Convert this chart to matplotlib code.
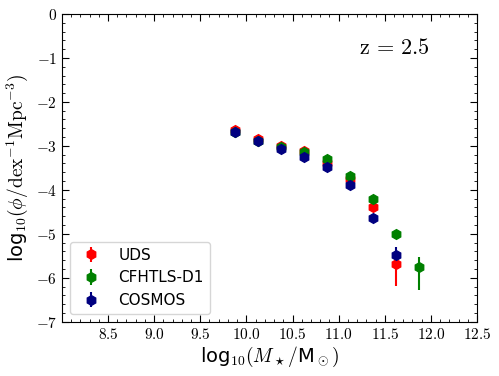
#%% Imports

import matplotlib
matplotlib.use('Agg')
import matplotlib.pyplot as plt
from matplotlib.ticker import MultipleLocator, AutoMinorLocator

#%% Data

# stellar mass bins (log10 M/Msun)
mass = [9.875, 10.125, 10.375, 10.625, 10.875, 11.125, 11.375, 11.625, 11.875]

# UDS
uds_phi = [-2.65, -2.85, -3.00, -3.12, -3.38, -3.75, -4.38, -5.69]
uds_lo = [0.03, 0.03, 0.03, 0.04, 0.04, 0.05, 0.08, 0.50]
uds_hi = [0.03, 0.03, 0.03, 0.04, 0.04, 0.05, 0.07, 0.25]

# CFHTLS-D1
cfh_phi = [-2.68, -2.88, -3.03, -3.13, -3.30, -3.68, -4.21, -5.01, -5.75]
cfh_lo = [0.03, 0.03, 0.03, 0.04, 0.04, 0.05, 0.07, 0.10, 0.52]
cfh_hi = [0.03, 0.03, 0.03, 0.04, 0.04, 0.05, 0.06, 0.09, 0.23]

# COSMOS
cos_phi = [-2.69, -2.90, -3.07, -3.26, -3.47, -3.90, -4.63, -5.48]
cos_lo = [0.02, 0.02, 0.02, 0.03, 0.03, 0.04, 0.05, 0.15]
cos_hi = [0.02, 0.02, 0.02, 0.03, 0.03, 0.04, 0.05, 0.19]

#%% Plot

plt.rcParams['mathtext.fontset'] = 'cm'

fig = plt.figure(figsize=(4.99, 3.76), dpi=100)
ax = fig.add_axes([0.124, 0.144, 0.832, 0.819])

ax.errorbar(mass[:len(uds_phi)], uds_phi, yerr=[uds_lo, uds_hi], fmt='h', color='red',
            ms=7, elinewidth=1.5, label='UDS')
ax.errorbar(mass[:len(cfh_phi)], cfh_phi, yerr=[cfh_lo, cfh_hi], fmt='h', color='green',
            ms=7, elinewidth=1.5, label='CFHTLS-D1')
ax.errorbar(mass[:len(cos_phi)], cos_phi, yerr=[cos_lo, cos_hi], fmt='h', color='navy',
            ms=7, elinewidth=1.5, label='COSMOS')

ax.set_xlim(8.0, 12.5)
ax.set_ylim(-7, 0)
ax.set_xticks([8.5, 9.0, 9.5, 10.0, 10.5, 11.0, 11.5, 12.0, 12.5])
ax.set_xticklabels([f'${v:.1f}$' for v in ax.get_xticks()])
ax.xaxis.set_minor_locator(MultipleLocator(0.1))
ax.yaxis.set_major_locator(MultipleLocator(1))
ax.yaxis.set_minor_locator(AutoMinorLocator(5))
ax.set_yticklabels([f'${int(v)}$' for v in ax.get_yticks()])
ax.tick_params(which='both', direction='in', top=True, right=True, labelsize=11)
ax.tick_params(which='major', length=5)
ax.tick_params(which='minor', length=2.5)

ax.set_xlabel(r'log$_{10}(M_\star/$M$_\odot)$', fontsize=14, labelpad=2)
ax.set_ylabel(r'log$_{10}(\phi/\mathrm{dex}^{-1}\mathrm{Mpc}^{-3})$', fontsize=14, labelpad=4)

ax.text(0.80, 0.89, r'$\mathrm{z}\,=\,2.5$', transform=ax.transAxes, fontsize=16,
        ha='center', va='center')

ax.legend(loc='lower left', fontsize=11, handletextpad=0.8)

plt.savefig('out.png', dpi=100)
